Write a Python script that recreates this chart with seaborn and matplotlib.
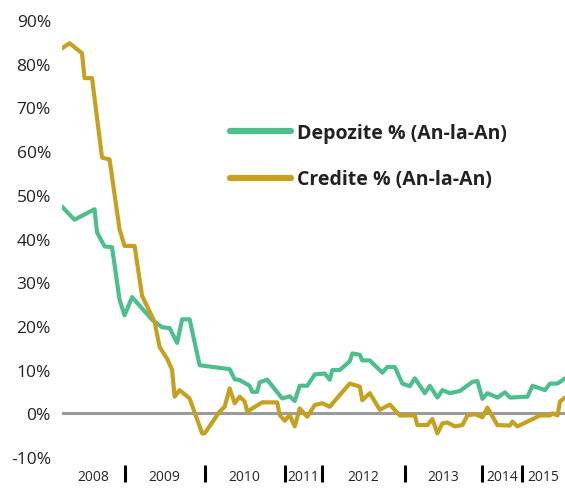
import numpy as np
import pandas as pd
import matplotlib
matplotlib.use("Agg")
import matplotlib.pyplot as plt
import seaborn as sns

# observation index (irregular spacing across years) and yoy growth in %
DEP_X = [0, 5, 13, 14, 17, 20, 23, 25, 28, 36, 40, 43, 46, 48, 51, 55, 67, 69, 71, 75,
         76, 78, 79, 82, 88, 91, 93, 95, 98, 101, 105, 107, 108, 111, 115, 116, 119, 120,
         123, 128, 130, 133, 136, 139, 141, 145, 147, 150, 152, 155, 159, 164, 166, 168,
         170, 174, 177, 179, 186, 188, 193, 195, 198, 201]
DEP_Y = [47.3, 44.3, 46.7, 41.4, 38.2, 38.0, 26.0, 22.4, 26.6, 21.4, 19.7, 19.5, 16.1,
         21.5, 21.5, 11.0, 10.1, 7.8, 7.6, 6.3, 4.9, 4.9, 7.1, 7.7, 3.4, 3.9, 2.8, 6.3,
         6.3, 8.9, 9.1, 7.7, 9.9, 9.9, 11.9, 13.7, 13.4, 12.1, 12.1, 9.3, 10.6, 10.6, 6.8,
         6.2, 8.0, 4.6, 6.3, 3.6, 5.3, 4.6, 5.1, 7.2, 7.4, 3.3, 4.6, 3.6, 4.8, 3.6, 3.8,
         6.3, 5.3, 6.8, 6.8, 8.0]

CRED_X = [0, 3, 8, 9, 12, 16, 19, 23, 25, 29, 32, 37, 39, 42, 44, 45, 47, 51, 56, 57,
          63, 65, 67, 69, 71, 73, 74, 80, 86, 87, 89, 91, 93, 95, 98, 101, 104, 107, 111,
          115, 119, 120, 123, 127, 131, 135, 141, 142, 146, 148, 150, 152, 154, 157, 160,
          162, 165, 168, 170, 174, 179, 180, 182, 191, 195, 196, 198, 199, 201]
CRED_Y = [83.5, 84.7, 82.4, 76.7, 76.7, 58.5, 58.1, 42.1, 38.3, 38.3, 26.9, 20.9, 15.2,
          12.5, 9.9, 3.8, 5.3, 3.4, -4.6, -4.6, 0.4, 1.5, 5.7, 2.3, 3.8, 2.7, 0.4, 2.5,
          2.5, -0.4, -1.7, -0.4, -3.0, 1.1, -0.8, 1.9, 2.3, 1.5, 4.2, 6.8, 6.1, 3.0, 4.6,
          0.8, 2.0, -0.5, -0.5, -2.7, -2.7, -1.3, -4.6, -2.3, -2.1, -3.0, -2.7, -0.5,
          -0.2, -0.9, 1.3, -2.7, -2.8, -1.9, -3.0, -0.5, -0.5, 0.0, -0.5, 2.7, 3.6]

YEARS = ["2008", "2009", "2010", "2011", "2012", "2013", "2014", "2015"]
YEAR_BOUNDS = [0, 25, 57, 89, 104, 137, 168, 184, 201]

LABEL_DEP = "Depozite % (An-la-An)"
LABEL_CRED = "Credite % (An-la-An)"

GREEN = "#4dbf8c"
GOLD = "#c6a11f"
GREY = "#9b9b9f"


def main():
    sns.set_style("white")
    plt.rcParams["font.family"] = ["Open Sans", "DejaVu Sans"]

    df = pd.concat([
        pd.DataFrame({"idx": DEP_X, "val": DEP_Y, "serie": LABEL_DEP}),
        pd.DataFrame({"idx": CRED_X, "val": CRED_Y, "serie": LABEL_CRED}),
    ])

    fig = plt.figure(figsize=(5.65, 5.02), dpi=100)
    ax = fig.add_axes([62 / 565, 44 / 502, 503 / 565, 437 / 502])

    ax.axhline(0, color=GREY, lw=2.2, zorder=1)
    sns.lineplot(data=df, x="idx", y="val", hue="serie",
                 palette={LABEL_DEP: GREEN, LABEL_CRED: GOLD},
                 linewidth=3.0, sort=False, ax=ax, zorder=3)

    ax.set_xlim(0, 201)
    ax.set_ylim(-10, 90)
    ax.set_xlabel("")
    ax.set_ylabel("")

    yt = np.arange(-10, 91, 10)
    ax.set_yticks(yt)
    ax.set_yticklabels([f"{v}%" for v in yt], fontsize=12.5, color="#222222")
    ax.tick_params(axis="y", length=0, pad=8)

    # year labels centred between separators
    b = np.array(YEAR_BOUNDS, dtype=float)
    ax.set_xticks((b[:-1] + b[1:]) / 2)
    ax.set_xticklabels(YEARS, fontsize=9.7, color="#222222")
    ax.set_xticks(b[1:-1], minor=True)
    ax.tick_params(axis="x", which="major", bottom=True, length=0, pad=3)
    ax.tick_params(axis="x", which="minor", bottom=True, length=12, width=2.2,
                   color="black", direction="out")
    ax.spines["bottom"].set_position(("outward", 6))

    for s in ax.spines.values():
        s.set_visible(False)

    leg = ax.legend(loc="center left", bbox_to_anchor=(168 / 503, 0.688),
                    frameon=False, borderpad=0, borderaxespad=0,
                    handlelength=3.15, handletextpad=0.28, labelspacing=1.35,
                    prop={"weight": "bold", "size": 14})
    for line in leg.get_lines():
        line.set_linewidth(4.5)
    for t in leg.get_texts():
        t.set_color("#222222")

    fig.savefig("out.png", dpi=100)
    plt.close(fig)


if __name__ == "__main__":
    main()
